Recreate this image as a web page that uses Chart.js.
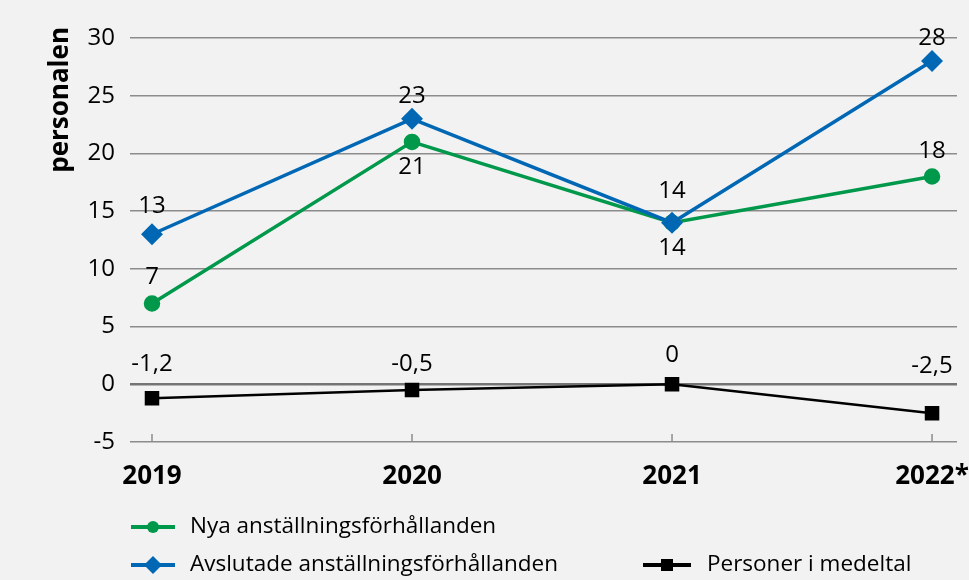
<!DOCTYPE html>
<html>
<head>
<meta charset="utf-8">
<script src="https://cdn.jsdelivr.net/npm/chart.js@4.4.1/dist/chart.umd.min.js"></script>
<style>
  html, body { margin: 0; padding: 0; background: #f2f2f2; }
  canvas { display: block; }
</style>
</head>
<body>
<canvas id="chart" width="969" height="580"></canvas>
<script>
'use strict';

// data
const years = ['2019', '2020', '2021', '2022*'];
const nya = [7, 21, 14, 18];
const avslutade = [13, 23, 14, 28];
const personer = [-1.2, -0.5, 0, -2.5];
const yTicks = [-5, 0, 5, 10, 15, 20, 25, 30];

const GREEN = '#00984a';
const BLUE = '#0067b4';
const BLACK = '#000000';
const FONT = "'Open Sans', sans-serif";

// label offsets (px) above/below each point
const labelDy = {
  nya: [-26, 25, 25, -25],
  avs: [-28, -23, -32, -23],
  per: [-34, -26, -29, -47]
};

function fmt(v) {
  return String(v).replace('.', ',');
}

function toPoints(arr) {
  return arr.map((v, i) => ({ x: i, y: v }));
}

let canvasElem = document.getElementById('chart');

const bgPlugin = {
  id: 'bg',
  beforeDraw(chart) {
    const ctx = chart.ctx;
    ctx.save();
    ctx.fillStyle = '#f2f2f2';
    ctx.fillRect(0, 0, chart.width, chart.height);
    ctx.restore();
  }
};

// small upward ticks on the bottom gridline + the y title
const axisExtras = {
  id: 'axisExtras',
  beforeDatasetsDraw(chart) {
    const ctx = chart.ctx;
    const x = chart.scales.x;
    const bottom = chart.chartArea.bottom;
    ctx.save();
    ctx.strokeStyle = '#8c8c8c';
    ctx.lineWidth = 1.5;
    years.forEach((_, i) => {
      const px = x.getPixelForValue(i);
      ctx.beginPath();
      ctx.moveTo(px, bottom);
      ctx.lineTo(px, bottom - 8);
      ctx.stroke();
    });
    ctx.translate(61, chart.chartArea.top - 11);
    ctx.rotate(-Math.PI / 2);
    ctx.font = 'bold 26px ' + FONT;
    ctx.fillStyle = '#000';
    ctx.textAlign = 'right';
    ctx.textBaseline = 'middle';
    ctx.fillText('personalen', 0, 0);
    ctx.restore();
  }
};

const labelPlugin = {
  id: 'valueLabels',
  afterDatasetsDraw(chart) {
    const ctx = chart.ctx;
    ctx.save();
    ctx.font = '24px ' + FONT;
    ctx.fillStyle = '#000';
    ctx.textAlign = 'center';
    ctx.textBaseline = 'middle';
    chart.data.datasets.forEach((ds, di) => {
      const meta = chart.getDatasetMeta(di);
      meta.data.forEach((pt, i) => {
        ctx.fillText(fmt(ds.data[i].y), pt.x, pt.y + labelDy[ds.key][i]);
      });
    });
    ctx.restore();
  }
};

function legendMark(ctx, x1, x2, y, color, style) {
  ctx.strokeStyle = color;
  ctx.fillStyle = color;
  ctx.lineWidth = 4;
  ctx.beginPath();
  ctx.moveTo(x1, y);
  ctx.lineTo(x2, y);
  ctx.stroke();
  const cx = (x1 + x2) / 2;
  ctx.beginPath();
  if (style === 'circle') {
    ctx.arc(cx, y, 6, 0, Math.PI * 2);
  } else if (style === 'rectRot') {
    ctx.moveTo(cx, y - 9);
    ctx.lineTo(cx + 9, y);
    ctx.lineTo(cx, y + 9);
    ctx.lineTo(cx - 9, y);
    ctx.closePath();
  } else {
    ctx.rect(cx - 6, y - 6, 12, 12);
  }
  ctx.fill();
}

const legendPlugin = {
  id: 'customLegend',
  afterDraw(chart) {
    const ctx = chart.ctx;
    const ds = chart.data.datasets;
    const rows = [
      { ds: ds[1], x1: 131, x2: 175, tx: 190, y: 527 },
      { ds: ds[0], x1: 131, x2: 175, tx: 190, y: 565 },
      { ds: ds[2], x1: 643, x2: 691, tx: 707, y: 565 }
    ];
    ctx.save();
    ctx.font = '22.5px ' + FONT;
    ctx.textBaseline = 'middle';
    ctx.textAlign = 'left';
    rows.forEach(r => {
      legendMark(ctx, r.x1, r.x2, r.y, r.ds.borderColor, r.ds.pointStyle);
      ctx.fillStyle = '#000';
      ctx.fillText(r.ds.label, r.tx, r.y);
    });
    ctx.restore();
  }
};

const data = {
  datasets: [
    {
      key: 'avs',
      label: 'Avslutade anställningsförhållanden',
      data: toPoints(avslutade),
      borderColor: BLUE,
      backgroundColor: BLUE,
      pointBackgroundColor: BLUE,
      pointStyle: 'rectRot',
      pointRadius: 8.5,
      borderWidth: 3.5,
      order: 0
    },
    {
      key: 'nya',
      label: 'Nya anställningsförhållanden',
      data: toPoints(nya),
      borderColor: GREEN,
      backgroundColor: GREEN,
      pointBackgroundColor: GREEN,
      pointStyle: 'circle',
      pointRadius: 6.5,
      borderWidth: 3.5,
      order: 1
    },
    {
      key: 'per',
      label: 'Personer i medeltal',
      data: toPoints(personer),
      borderColor: BLACK,
      backgroundColor: BLACK,
      pointBackgroundColor: BLACK,
      pointStyle: 'rect',
      pointRadius: 8.5,
      borderWidth: 2.5,
      order: 2
    }
  ]
};

const config = {
  type: 'line',
  data: data,
  options: {
    responsive: false,
    animation: false,
    events: [],
    layout: { padding: { left: 48, right: 6, top: 38, bottom: 0 } },
    plugins: {
      legend: { display: false },
      tooltip: { enabled: false }
    },
    elements: {
      line: { tension: 0 },
      point: { borderWidth: 0 }
    },
    scales: {
      x: {
        type: 'linear',
        min: -0.0846,
        max: 3.096,
        grid: { display: false },
        border: { display: false },
        afterBuildTicks: scale => {
          scale.ticks = years.map((_, i) => ({ value: i }));
        },
        afterFit: scale => {
          scale.height = 138;
          scale.paddingLeft = 0;
          scale.paddingRight = 0;
        },
        ticks: {
          autoSkip: false,
          maxRotation: 0,
          padding: 11,
          color: '#000',
          font: { family: FONT, size: 26, weight: 'bold' },
          callback: v => years[v]
        }
      },
      y: {
        min: -5,
        max: 30,
        afterBuildTicks: scale => {
          scale.ticks = yTicks.map(v => ({ value: v }));
        },
        afterFit: scale => {
          scale.width = 82;
        },
        grid: {
          drawTicks: false,
          color: c => (c.tick && c.tick.value === 0 ? '#747474' : '#8c8c8c'),
          lineWidth: c => (c.tick && c.tick.value === 0 ? 2.5 : 1.5)
        },
        border: { display: false },
        ticks: {
          padding: 15,
          color: '#000',
          font: { family: FONT, size: 24 },
          callback: v => fmt(v)
        }
      }
    }
  },
  plugins: [bgPlugin, axisExtras, labelPlugin, legendPlugin]
};

const myChart = new Chart(canvasElem, config);
</script>
</body>
</html>
